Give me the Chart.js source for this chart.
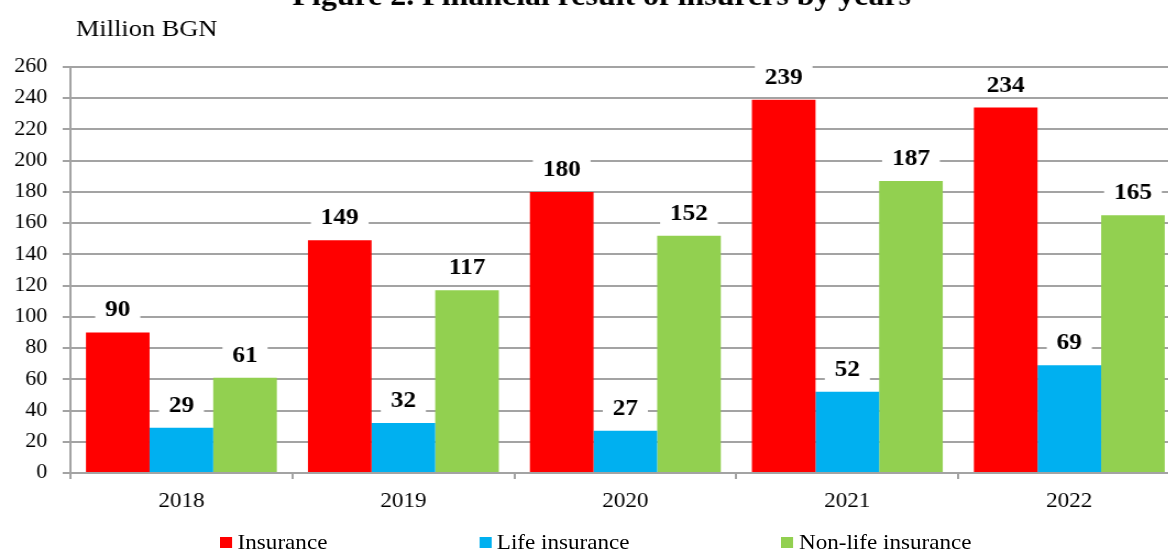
<!DOCTYPE html>
<html>
<head>
<meta charset="utf-8">
<script src="https://cdn.jsdelivr.net/npm/chart.js@4"></script>
<style>
html, body { margin: 0; padding: 0; overflow: hidden; background: #fff; width: 1168px; height: 550px; }
/* source picture is stretched a bit horizontally, so stretch the whole drawing */
#wrap { position: absolute; left: 0; top: 0; width: 1076px; height: 550px; transform: scaleX(1.1); transform-origin: 0 0; }
#chart { position: absolute; left: 0; top: 0; }
#legend { position: absolute; left: 200px; top: 531px; display: flex; gap: 138px; font: 21px "Liberation Serif", serif; line-height: 22px; color: #000; }
#legend .item { display: flex; align-items: center; }
#legend .box { width: 11px; height: 11px; margin-right: 5px; }
</style>
</head>
<body>
<div id="wrap">
  <canvas id="chart" width="1076" height="520"></canvas>
  <div id="legend"></div>
</div>
<script>
var title = "Figure 2. Financial result of insurers by years";
var unitLabel = "Million BGN";
var years = ["2018", "2019", "2020", "2021", "2022"];
var insurance = [90, 149, 180, 239, 234];
var lifeInsurance = [29, 32, 27, 52, 69];
var nonLifeInsurance = [61, 117, 152, 187, 165];
var yTicks = [0, 20, 40, 60, 80, 100, 120, 140, 160, 180, 200, 220, 240, 260];

var serif = '"Liberation Serif", "Times New Roman", serif';
var gridColor = "#a3a3a3";

// value labels on white boxes above every bar
var valueLabels = {
  id: "valueLabels",
  afterDatasetsDraw: function (chart) {
    var ctx = chart.ctx;
    ctx.save();
    ctx.font = "bold 23px " + serif;
    ctx.textAlign = "center";
    ctx.textBaseline = "middle";
    chart.data.datasets.forEach(function (ds, i) {
      chart.getDatasetMeta(i).data.forEach(function (bar, j) {
        var txt = String(ds.data[j]);
        var w = ctx.measureText(txt).width + 18;
        var y = bar.y - 23;
        ctx.fillStyle = "#fff";
        ctx.fillRect(bar.x - w / 2, y - 12, w, 24);
        ctx.fillStyle = "#000";
        ctx.fillText(txt, bar.x, y + 1);
      });
    });
    ctx.restore();
  }
};

var headings = {
  id: "headings",
  afterDraw: function (chart) {
    var ctx = chart.ctx;
    ctx.save();
    ctx.fillStyle = "#000";
    ctx.textBaseline = "alphabetic";
    ctx.font = "bold 29px " + serif;
    ctx.textAlign = "center";
    ctx.fillText(title, 547, 5);
    ctx.font = "24px " + serif;
    ctx.textAlign = "left";
    ctx.fillText(unitLabel, 69, 36);
    ctx.restore();
  }
};

var ctx = document.getElementById("chart").getContext("2d");
var chart = new Chart(ctx, {
  type: "bar",
  data: {
    labels: years,
    datasets: [
      { label: "Insurance", data: insurance, backgroundColor: "#ff0000" },
      { label: "Life insurance", data: lifeInsurance, backgroundColor: "#00b0f0" },
      { label: "Non-life insurance", data: nonLifeInsurance, backgroundColor: "#92d050" }
    ]
  },
  options: {
    responsive: false,
    animation: false,
    layout: { padding: { top: 67, right: 3, bottom: 0, left: 0 } },
    datasets: { bar: { barPercentage: 1, categoryPercentage: 0.86 } },
    plugins: {
      legend: { display: false },
      title: { display: false },
      tooltip: { enabled: false }
    },
    scales: {
      x: {
        grid: { display: true, drawOnChartArea: false, drawTicks: true, tickLength: 6, color: gridColor, lineWidth: 2 },
        border: { display: true, color: gridColor, width: 2 },
        ticks: { color: "#000", font: { family: serif, size: 21 }, padding: 10 },
        afterFit: function (s) { s.height = 47; }
      },
      y: {
        min: 0,
        max: 260,
        afterBuildTicks: function (s) { s.ticks = yTicks.map(function (v) { return { value: v }; }); },
        grid: { color: gridColor, lineWidth: 2, tickLength: 7 },
        border: { display: true, color: gridColor, width: 2 },
        ticks: { color: "#000", font: { family: serif, size: 20 }, padding: 14 },
        afterFit: function (s) { s.width = 64; }
      }
    }
  },
  plugins: [valueLabels, headings]
});

// legend built from the datasets
var legend = document.getElementById("legend");
chart.data.datasets.forEach(function (ds) {
  var item = document.createElement("div");
  item.className = "item";
  item.innerHTML = '<span class="box" style="background:' + ds.backgroundColor + '"></span><span>' + ds.label + '</span>';
  legend.appendChild(item);
});
</script>
</body>
</html>
